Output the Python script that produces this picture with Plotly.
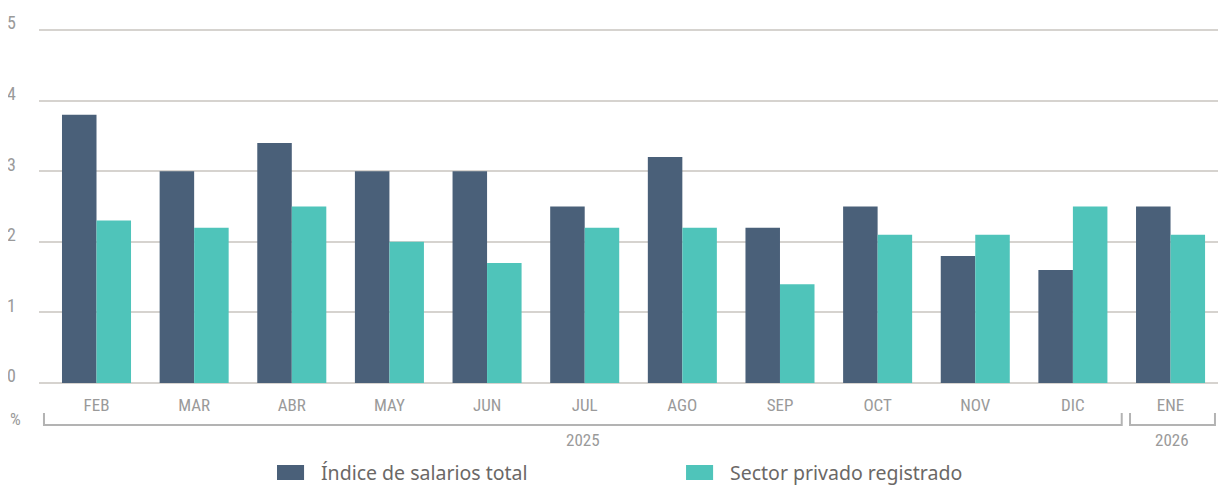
import plotly.graph_objects as go

months = ["FEB", "MAR", "ABR", "MAY", "JUN", "JUL", "AGO", "SEP", "OCT", "NOV", "DIC", "ENE"]
indice_total = [3.8, 3.0, 3.4, 3.0, 3.0, 2.5, 3.2, 2.2, 2.5, 1.8, 1.6, 2.5]
sector_privado = [2.3, 2.2, 2.5, 2.0, 1.7, 2.2, 2.2, 1.4, 2.1, 2.1, 2.5, 2.1]
series_names = ["Índice de salarios total", "Sector privado registrado"]
y_ticks = [0, 1, 2, 3, 4, 5]
year_labels = ["2025", "2026"]
year_spans = [(0, 10), (11, 11)]

DARK = "#4a6079"
TEAL = "#4fc4ba"
GRID = "#d6d3cf"
TICK = "#9a9a9a"
BRACKET = "#b3b3b3"
LEGTXT = "#6b6866"
NARROW = "Liberation Sans Narrow, Roboto Condensed, Arial Narrow, sans-serif"

x_idx = list(range(len(months)))

fig = go.Figure()
fig.add_trace(go.Bar(x=x_idx, y=indice_total, name=series_names[0],
                     marker=dict(color=DARK, line=dict(width=0))))
fig.add_trace(go.Bar(x=x_idx, y=sector_privado, name=series_names[1],
                     marker=dict(color=TEAL, line=dict(width=0))))

shapes = []
annotations = []

# year brackets below the month labels
bracket_pad = [(-0.538, 0.50), (-0.415, 0.455)]
yt, yb = -0.0817, -0.1155
for label, (i0, i1), (p0, p1) in zip(year_labels, year_spans, bracket_pad):
    x0, x1 = i0 + p0, i1 + p1
    shapes.append(dict(type="path", xref="x", yref="paper",
                       path=f"M {x0} {yt} L {x0} {yb} L {x1} {yb} L {x1} {yt}",
                       line=dict(color=BRACKET, width=2)))
    annotations.append(dict(x=(x0 + x1) / 2, y=-0.1577, xref="x", yref="paper",
                            text=label, showarrow=False,
                            font=dict(family=NARROW, size=17, color=TICK),
                            xanchor="center", yanchor="middle"))

annotations.append(dict(x=-0.0261, y=-0.0986, xref="paper", yref="paper", text="%",
                        showarrow=False, xanchor="left", yanchor="middle",
                        font=dict(family=NARROW, size=17, color=TICK)))

# custom legend (wide swatches like the reference)
leg_x = [0.2005, 0.5451]
sw_w = 0.0228
for name, color, lx in zip(series_names, [DARK, TEAL], leg_x):
    shapes.append(dict(type="rect", xref="paper", yref="paper",
                       x0=lx, x1=lx + sw_w, y0=-0.2704, y1=-0.2282,
                       fillcolor=color, line=dict(width=0)))
    annotations.append(dict(x=lx + 0.0354, y=-0.2507, xref="paper", yref="paper",
                            text=name, showarrow=False, xanchor="left", yanchor="middle",
                            font=dict(family="Noto Sans, Open Sans, sans-serif", size=19.5,
                                      color=LEGTXT)))

# the page body has an 8px default margin: compensate in size and margins
fig.update_layout(
    width=1218, height=477,
    margin=dict(l=31, r=0, t=21, b=101),
    plot_bgcolor="white", paper_bgcolor="white",
    barmode="group", bargap=0.293, bargroupgap=0,
    showlegend=False,
    xaxis=dict(tickmode="array", tickvals=x_idx, ticktext=months,
               range=[-0.589, 11.568], showgrid=False, zeroline=False,
               showline=False, ticks="", ticklabelstandoff=9,
               tickfont=dict(family=NARROW, size=17, color=TICK)),
    yaxis=dict(range=[-0.015, 5.015], tickmode="array", tickvals=y_ticks,
               showgrid=True, gridcolor=GRID, gridwidth=2, zeroline=False,
               showline=False, ticks="", ticklabelstandoff=22, ticklabelshift=-7,
               tickfont=dict(family=NARROW, size=18, color=TICK)),
    shapes=shapes, annotations=annotations,
)

fig.write_html("out.html")
